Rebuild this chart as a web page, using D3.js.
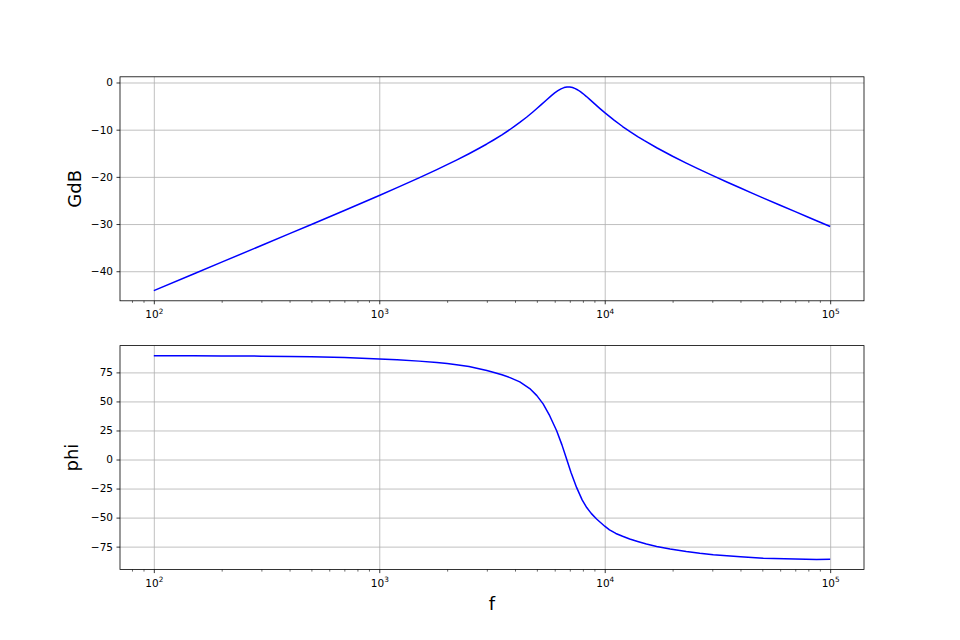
<!DOCTYPE html>
<html>
<head>
<meta charset="utf-8">
<script src="https://cdn.jsdelivr.net/npm/d3@7"></script>
<style>
  body { margin: 0; background: #fff; }
  text { font-family: "DejaVu Sans", sans-serif; }
</style>
</head>
<body>
<div id="vis-holder"></div>
<script>
// Gain curve: frequencies (Hz) and values (dB)
const gainFreq = [100, 150, 200, 300, 400, 500, 700, 1000, 1200, 1500, 1800, 2000, 2200, 2500, 2800,
                  3000, 3200, 3500, 3800, 4000, 4200, 4500, 4800, 5000, 5200, 5500, 5800, 6000, 6200,
                  6400, 6600, 6800, 7000, 7200, 7400, 7600, 7800, 8000, 8300, 8600, 9000, 9500, 10000,
                  11000, 12000, 13000, 14000, 15000, 17000, 20000, 23000, 26000, 30000, 35000, 40000,
                  45000, 50000, 60000, 70000, 80000, 87000, 93000, 100000];
const gainDb = [-44.11, -40.59, -38.08, -34.55, -32.04, -30.09, -27.12, -23.95, -22.29, -20.22, -18.47, -17.42, -16.46, -15.10, -13.83,
                -13.03, -12.24, -11.09, -9.96, -9.21, -8.47, -7.36, -6.25, -5.52, -4.80, -3.75, -2.78, -2.21, -1.72,
                -1.34, -1.08, -0.95, -0.95, -1.07, -1.29, -1.59, -1.95, -2.34, -2.98, -3.63, -4.48, -5.48, -6.39,
                -7.99, -9.33, -10.47, -11.47, -12.34, -13.83, -15.63, -17.08, -18.30, -19.68, -21.14, -22.37,
                -23.44, -24.39, -26.02, -27.38, -28.56, -29.30, -29.88, -30.52];

// Phase curve: frequencies (Hz) and values (degrees)
const phaseFreq = [100, 150, 200, 300, 400, 500, 700, 1000, 1200, 1500, 1800, 2000, 2200, 2500, 2800,
                   3000, 3200, 3500, 3800, 4200, 4650, 5000, 5330, 5700, 6120, 6460, 6780, 7080, 7500,
                   7940, 8320, 8710, 9200, 10000, 10500, 11200, 12000, 12900, 14000, 15300, 17000, 19500,
                   23000, 26400, 30300, 40000, 50500, 70000, 87000, 100000];
const phaseDeg = [89.3, 89.3, 89.2, 89.0, 88.7, 88.5, 87.8, 86.6, 85.9, 84.7, 83.5, 82.6, 81.6, 80.0, 78.0,
                  76.6, 75.2, 72.9, 70.5, 66.8, 61.1, 55.0, 47.9, 37.7, 24.8, 12.6, 0.2, -10.9, -24.0,
                  -34.75, -41.35, -46.35, -51.2, -57.4, -60.5, -63.65, -66.1, -68.45, -70.55, -72.7, -74.8, -77.0,
                  -79.2, -80.7, -81.9, -83.7, -84.9, -85.6, -86.0, -85.9];

// Tick values
const decades = [100, 1000, 10000, 100000];
const gainTicks = [0, -10, -20, -30, -40];
const phaseTicks = [75, 50, 25, 0, -25, -50, -75];

// Figure layout (matplotlib default subplot params)
const width = 960;
const height = 640;
const margin = { left: 120, right: 96 };
const panelH = 224;
const panels = [76.8, 345.6];

const svg = d3.select("#vis-holder")
              .append("svg")
              .attr("width", width)
              .attr("height", height);

svg.append("rect").attr("width", width).attr("height", height).attr("fill", "#fff");

// Log x scale with 5% padding in log space
const lo = Math.log10(d3.min(gainFreq)), hi = Math.log10(d3.max(gainFreq));
const pad = (hi - lo) * 0.05;
const x = d3.scaleLog()
            .domain([10 ** (lo - pad), 10 ** (hi + pad)])
            .range([margin.left, width - margin.right]);

// Minor ticks 2..9 within each decade
const minorTicks = [];
for (let d = 10; d <= 100000; d *= 10) {
  for (let k = 2; k <= 9; k++) {
    const v = d * k;
    if (v >= x.domain()[0] && v <= x.domain()[1]) minorTicks.push(v);
  }
}

function drawPanel(top, freqs, values, ticks, label, labelX, showXLabel) {
  const bottom = top + panelH;
  const ext = d3.extent(values);
  const yPad = (ext[1] - ext[0]) * 0.05;
  const y = d3.scaleLinear()
              .domain([ext[0] - yPad, ext[1] + yPad])
              .range([bottom, top]);

  const g = svg.append("g");

  // Grid lines
  g.append("g")
   .attr("transform", `translate(0,${bottom})`)
   .call(d3.axisBottom(x).tickValues(decades).tickSize(-panelH).tickFormat(""))
   .call((s) => s.select(".domain").remove())
   .selectAll("line").attr("stroke", "#b0b0b0").attr("stroke-width", 0.8);

  g.append("g")
   .attr("transform", `translate(${margin.left},0)`)
   .call(d3.axisLeft(y).tickValues(ticks).tickSize(-(width - margin.left - margin.right)).tickFormat(""))
   .call((s) => s.select(".domain").remove())
   .selectAll("line").attr("stroke", "#b0b0b0").attr("stroke-width", 0.8);

  // Curve
  g.append("path")
   .datum(freqs.map((f, i) => [f, values[i]]))
   .attr("fill", "none")
   .attr("stroke", "#0000ff")
   .attr("stroke-width", 1.5)
   .attr("stroke-linejoin", "round")
   .attr("d", d3.line().x((d) => x(d[0])).y((d) => y(d[1])));

  // Spines
  g.append("rect")
   .attr("x", margin.left)
   .attr("y", top)
   .attr("width", width - margin.left - margin.right)
   .attr("height", panelH)
   .attr("fill", "none")
   .attr("stroke", "#000")
   .attr("stroke-width", 0.8);

  // Minor x ticks
  g.append("g")
   .attr("transform", `translate(0,${bottom})`)
   .call(d3.axisBottom(x).tickValues(minorTicks).tickSize(2).tickFormat(""))
   .call((s) => s.select(".domain").remove())
   .selectAll("line").attr("stroke", "#000").attr("stroke-width", 0.6);

  // Major x ticks with 10^n labels
  const xAxis = g.append("g")
   .attr("transform", `translate(0,${bottom})`)
   .call(d3.axisBottom(x).tickValues(decades).tickSize(3.5).tickPadding(3.5).tickFormat(""))
   .call((s) => s.select(".domain").remove());
  xAxis.selectAll("line").attr("stroke", "#000").attr("stroke-width", 0.8);
  xAxis.selectAll(".tick text").remove();
  xAxis.selectAll(".tick").append("text")
   .attr("y", 17.3)
   .attr("fill", "#000")
   .attr("font-size", "10.5px")
   .attr("text-anchor", "middle")
   .each(function(d) {
     const t = d3.select(this);
     t.append("tspan").text("10");
     t.append("tspan").attr("font-size", "7.3px").attr("dy", -4.5).text(Math.round(Math.log10(d)));
   });

  // Y ticks
  g.append("g")
   .attr("transform", `translate(${margin.left},0)`)
   .call(d3.axisLeft(y).tickValues(ticks).tickSize(3.5).tickPadding(3.5))
   .call((s) => s.select(".domain").remove())
   .call((s) => s.selectAll("line").attr("stroke", "#000").attr("stroke-width", 0.8))
   .call((s) => s.selectAll("text")
                 .attr("fill", "#000")
                 .attr("font-size", "10.5px")
                 .attr("font-family", "DejaVu Sans, sans-serif"));

  // Y label
  svg.append("text")
     .attr("transform", `translate(${labelX},${(top + bottom) / 2}) rotate(-90)`)
     .attr("text-anchor", "middle")
     .attr("font-size", "18px")
     .attr("fill", "#000")
     .text(label);

  if (showXLabel) {
    svg.append("text")
       .attr("x", (margin.left + width - margin.right) / 2)
       .attr("y", 610)
       .attr("text-anchor", "middle")
       .attr("font-size", "18px")
       .attr("fill", "#000")
       .text("f");
  }
}

drawPanel(panels[0], gainFreq, gainDb, gainTicks, "GdB", 80.5, false);
drawPanel(panels[1], phaseFreq, phaseDeg, phaseTicks, "phi", 77.5, true);
</script>
</body>
</html>
